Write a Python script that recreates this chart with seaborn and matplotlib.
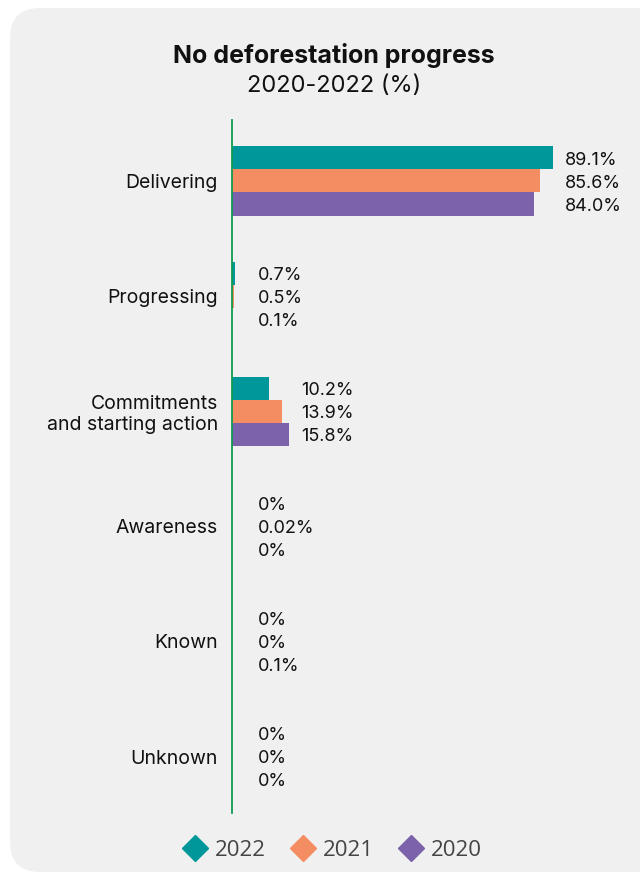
import matplotlib
matplotlib.use("Agg")
import matplotlib.pyplot as plt
from matplotlib.patches import FancyBboxPatch
from matplotlib.lines import Line2D
import pandas as pd
import seaborn as sns

categories = ["Delivering", "Progressing", "Commitments\nand starting action",
              "Awareness", "Known", "Unknown"]
years = ["2022", "2021", "2020"]
v2022 = [89.1, 0.7, 10.2, 0, 0, 0]
v2021 = [85.6, 0.5, 13.9, 0.02, 0, 0]
v2020 = [84.0, 0.1, 15.8, 0, 0.1, 0]
colors = ["#00979a", "#f58d62", "#7b62aa"]

series = [v2022, v2021, v2020]
df = pd.DataFrame({
    "category": categories * 3,
    "year": [y for y in years for _ in categories],
    "value": v2022 + v2021 + v2020,
})

def fmt(v):
    if v == 0:
        return "0%"
    if v < 0.1:
        return f"{v:.2f}%"
    return f"{v:.1f}%"

sns.set_theme(style="white")
plt.rcParams["font.family"] = ["Inter", "DejaVu Sans"]

fig = plt.figure(figsize=(6.4, 8.75), dpi=100)
fig.patch.set_facecolor("white")

# rounded grey panel behind everything (pixel coords)
panel = FancyBboxPatch((10, 3), 700, 864, boxstyle="round,pad=0,rounding_size=30",
                       transform=None, facecolor="#f0f0f0", edgecolor="none", zorder=-5)
fig.patches.append(panel)

ax = fig.add_axes([0.3625, 0.0709, 0.5625, 0.792])
ax.set_zorder(2)
ax.set_facecolor("none")

sns.barplot(data=df, x="value", y="category", hue="year", hue_order=years,
            palette=colors, orient="h", width=0.6, saturation=1, linewidth=0,
            errorbar=None, legend=False, ax=ax)

ax.set_xlim(0, 100)
ax.set_ylim(5.49, -0.53)
for s in ["top", "right", "bottom"]:
    ax.spines[s].set_visible(False)
ax.spines["left"].set_color("#109a4e")
ax.spines["left"].set_linewidth(1.3)
ax.spines["left"].set_zorder(5)
ax.set_xticks([])
ax.set_xlabel("")
ax.set_ylabel("")
ax.tick_params(axis="y", length=0, pad=10, labelsize=14, labelcolor="#111111")

# value labels, aligned per group
for i in range(len(categories)):
    group_max = max(s[i] for s in series)
    x = max(group_max + 3.3, 7.2)
    for j, s in enumerate(series):
        ax.text(x, i + (j - 1) * 0.2 + 0.02, fmt(s[i]), va="center", ha="left",
                fontsize=13, color="#111111")

fig.text(0.522, 1 - 55 / 875, "No deforestation progress", ha="center", va="center",
         fontsize=18, fontweight="bold", color="#111111")
fig.text(0.522, 1 - 86 / 875, "2020-2022 (%)", ha="center", va="center",
         fontsize=17, color="#111111")

handles = [Line2D([], [], marker="D", ls="", color=c, markersize=13) for c in colors]
fig.legend(handles, years, loc="center", bbox_to_anchor=(0.52, 1 - 850 / 875),
           ncol=3, frameon=False, handlelength=1.0, handletextpad=0.4,
           columnspacing=1.17, prop={"family": "Open Sans", "size": 16},
           labelcolor="#444444")

fig.savefig("out.png", dpi=100)
